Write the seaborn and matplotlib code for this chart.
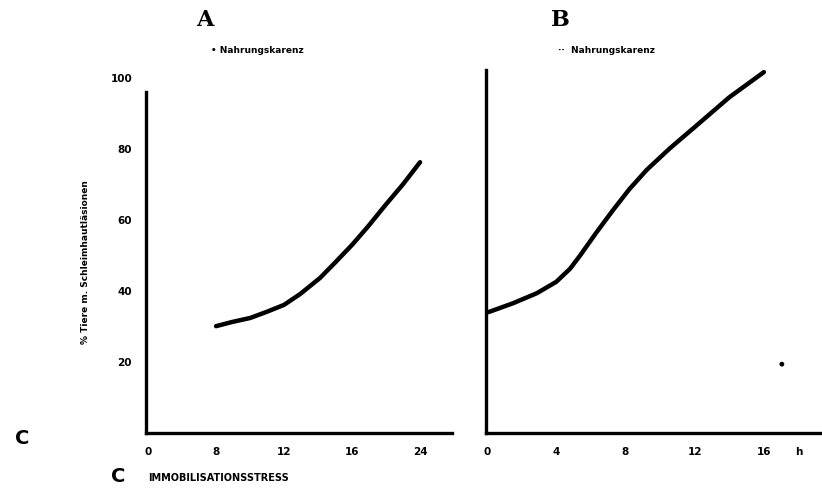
import numpy as np
import pandas as pd
import matplotlib
matplotlib.use("Agg")
import matplotlib.pyplot as plt
import seaborn as sns

# panel A: tick positions are equally spaced, labels as printed
a_tick_labels = ['0', '8', '12', '16', '24']
a_x = [1, 1.24, 1.5, 1.74, 2, 2.24, 2.53, 2.76, 3, 3.24, 3.49, 3.75, 4]
a_y = [30.1, 31.3, 32.4, 34.1, 36.1, 39.2, 43.7, 48.2, 53.0, 58.3, 64.2, 70.1, 76.3]

# panel B
b_tick_labels = ['0', '4', '8', '12', '16', 'h']
b_x = [0, 0.04, 0.38, 0.72, 1.0, 1.2, 1.34, 1.58, 1.82, 2.06, 2.31, 2.64, 3.0, 3.5, 4.0]
b_y = [34.0, 34.2, 36.6, 39.4, 42.6, 46.3, 49.9, 56.5, 62.8, 68.8, 74.2, 80.2, 86.2, 94.6, 101.7]

y_ticks = [20, 40, 60, 80, 100]

# stray dot in panel B
dot_x = [4.26]
dot_y = [19.4]

sns.set_style("white")
plt.rcParams['font.family'] = ['DejaVu Sans']
plt.rcParams['text.color'] = 'black'
plt.rcParams['xtick.color'] = 'black'
plt.rcParams['ytick.color'] = 'black'

W, H = 822, 491
fig = plt.figure(figsize=(W / 100, H / 100), dpi=100)


def px_axes(l, t, r, b):
    return fig.add_axes([l / W, 1 - b / H, (r - l) / W, (b - t) / H])


axA = px_axes(146, 71, 452, 433)
axB = px_axes(486, 70, 822, 433)

dfa = pd.DataFrame({'x': a_x, 'y': a_y})
dfb = pd.DataFrame({'x': b_x, 'y': b_y})
sns.lineplot(data=dfa, x='x', y='y', ax=axA, color='black', linewidth=3.2,
             solid_capstyle='round', solid_joinstyle='round')
sns.lineplot(data=dfb, x='x', y='y', ax=axB, color='black', linewidth=3.2,
             solid_capstyle='round', solid_joinstyle='round')
sns.scatterplot(x=dot_x, y=dot_y, ax=axB, color='black', s=12, edgecolor='none')

for ax in (axA, axB):
    ax.set_xlabel('')
    ax.set_ylabel('')
    for s in ('top', 'right'):
        ax.spines[s].set_visible(False)
    for s in ('left', 'bottom'):
        ax.spines[s].set_linewidth(2.4)
        ax.spines[s].set_color('black')
    ax.tick_params(axis='both', direction='out', length=4, width=1.6, color='black',
                   pad=6)

axA.set_xlim(-0.03, 4.47)
axA.set_ylim(0, 102)
axA.set_xticks(range(len(a_tick_labels)))
axA.set_xticklabels(a_tick_labels, fontweight='heavy', fontsize=7.5)
axA.set_yticks(y_ticks)
axA.set_yticklabels([str(v) for v in y_ticks], fontweight='heavy', fontsize=7.5)
axA.spines['left'].set_bounds(0, 96)

axB.set_xlim(-0.015, 4.84)
axB.set_ylim(0, 102.3)
axB.set_xticks([0, 1, 2, 3, 4, 4.5])
axB.set_xticklabels(b_tick_labels, fontweight='heavy', fontsize=7.5)
axB.get_xticklines()[-2].set_visible(False)
axB.set_yticks([])

# titles and labels
fig.text(205 / W, 1 - 20 / H, 'A', family='DejaVu Serif', fontweight='bold',
         fontsize=16, ha='center', va='center')
fig.text(560 / W, 1 - 20 / H, 'B', family='DejaVu Serif', fontweight='bold',
         fontsize=16, ha='center', va='center')
fig.text(211 / W, 1 - 50 / H, '• Nahrungskarenz', fontweight='heavy', fontsize=6.5,
         ha='left', va='center')
fig.text(558 / W, 1 - 50 / H, '··  Nahrungskarenz', fontweight='heavy', fontsize=6.5,
         ha='left', va='center')
fig.text(85 / W, 1 - 262 / H, '% Tiere m. Schleimhautläsionen', rotation=90,
         fontweight='heavy', fontsize=6.5, ha='center', va='center')
fig.text(22 / W, 1 - 438 / H, 'C', fontweight='bold', fontsize=14,
         ha='center', va='center')
fig.text(118 / W, 1 - 476 / H, 'C', fontweight='bold', fontsize=14,
         ha='center', va='center')
fig.text(148 / W, 1 - 478 / H, 'IMMOBILISATIONSSTRESS', fontweight='heavy',
         fontsize=7, ha='left', va='center')

fig.savefig('out.png', dpi=100, facecolor='white')
